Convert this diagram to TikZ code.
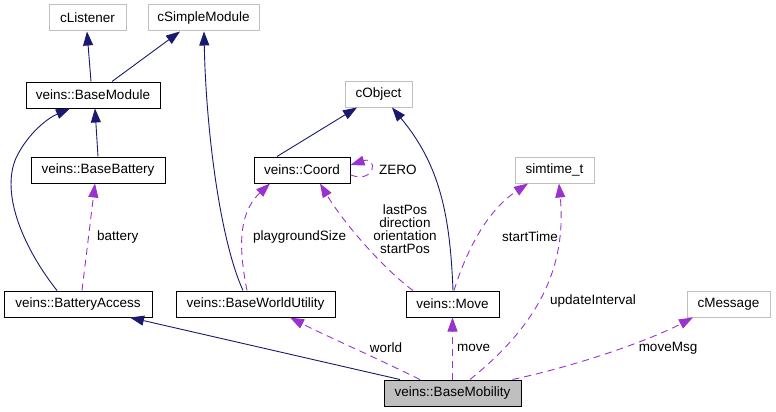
\documentclass[tikz,border=0pt]{standalone}
\usepackage{fontspec}
\setmainfont{Liberation Sans}
\usetikzlibrary{arrows.meta}
\definecolor{navy}{HTML}{191970}
\definecolor{purp}{HTML}{9A32CD}
\definecolor{gborder}{HTML}{BFBFBF}
\begin{document}
\begin{tikzpicture}[x=1pt,y=-1pt,
  every node/.style={font=\fontsize{13.5}{13}\selectfont},
  cls/.style={draw=black,line width=1pt,rectangle,inner sep=0pt,minimum height=26pt,fill=white},
  ext/.style={draw=gborder,line width=1pt,rectangle,inner sep=0pt,minimum height=26pt,fill=white},
  inh/.style={draw=navy,line width=0.9pt,-{Triangle[length=14pt,width=10pt,fill=navy]}},
  use/.style={draw=purp,line width=0.9pt,dash pattern=on 7pt off 5pt,-{Triangle[length=14pt,width=10pt,fill=purp,sep=0pt]}},
  lbl/.style={inner sep=0pt,text=black}]
\useasboundingbox (0,0) rectangle (776,412);
% nodes
\node[ext,minimum width=77pt] (cListener) at (87.5,18) {cListener};
\node[ext,minimum width=111pt] (cSimpleModule) at (203.5,18) {cSimpleModule};
\node[cls,minimum width=134pt] (BaseModule) at (93,95) {veins::BaseModule};
\node[cls,minimum width=134pt] (BaseBattery) at (98,170) {veins::BaseBattery};
\node[cls,minimum width=148pt] (BatteryAccess) at (78,304) {veins::BatteryAccess};
\node[cls,minimum width=159pt] (BaseWorldUtility) at (255.5,304) {veins::BaseWorldUtility};
\node[ext,minimum width=67pt] (cObject) at (378.5,94) {cObject};
\node[cls,minimum width=96pt] (Coord) at (302,170) {veins::Coord};
\node[ext,minimum width=79pt] (simtime) at (554.5,170) {simtime\_t};
\node[cls,minimum width=93pt] (Move) at (452.5,304) {veins::Move};
\node[ext,minimum width=83pt] (cMessage) at (728.5,304) {cMessage};
\node[cls,minimum width=137pt,fill=gborder] (BaseMobility) at (452.5,393) {veins::BaseMobility};
% inheritance
\draw[inh] ([xshift=-2pt]BaseModule.north) -- ([xshift=-0.5pt]cListener.south);
\draw[inh] ([xshift=19pt]BaseModule.north) -- ([xshift=-23.5pt]cSimpleModule.south);
\draw[inh] (BaseBattery.north) -- ([xshift=2pt]BaseModule.south);
\draw[inh] ([xshift=-21pt]BatteryAccess.north) .. controls (25,250) and (0,195) .. (16,158) .. controls (28,133) and (48,118) .. ([xshift=-23pt]BaseModule.south);
\draw[inh] ([xshift=-12.5pt]BaseWorldUtility.north) .. controls (220,240) and (206,130) .. ([xshift=0.5pt]cSimpleModule.south);
\draw[inh] ([xshift=-25pt]Coord.north) -- ([xshift=-21.5pt]cObject.south);
\draw[inh] ([xshift=0.5pt]Move.north) .. controls (450,215) and (440,165) .. ([xshift=13.5pt]cObject.south);
\draw[inh] ([xshift=-52.5pt]BaseMobility.north) -- ([xshift=52pt]BatteryAccess.south);
% usage
\draw[use] ([xshift=4pt]BatteryAccess.north) -- ([xshift=-3pt]BaseBattery.south);
\node[lbl,anchor=west] (lbattery) at (97,237) {battery};
\draw[use] ([xshift=-8.5pt]BaseWorldUtility.north) .. controls (240,255) and (236,215) .. ([xshift=-32pt]Coord.south);
\node[lbl,anchor=west] (lplay) at (253,237) {playgroundSize};
\draw[use] ([yshift=-5pt]Coord.east) .. controls (376,184) and (378,156) .. ([yshift=5pt]Coord.east);
\node[lbl,anchor=west] (lzero) at (379,170) {ZERO};
\draw[use] ([xshift=-39.5pt]Move.north) .. controls (385,270) and (345,225) .. ([xshift=18pt]Coord.south);
\node[lbl,align=center,font=\fontsize{13.5}{13}\selectfont] (lpos) at (405,229.5) {lastPos\\direction\\orientation\\startPos};
\draw[use] ([xshift=1.5pt]Move.north) .. controls (465,255) and (485,212) .. ([xshift=-26.5pt]simtime.south);
\node[lbl] (lstart) at (530,237) {startTime};
\draw[use] ([xshift=17.5pt]BaseMobility.north) .. controls (525,335) and (568,280) .. ([xshift=4.5pt]simtime.south);
\node[lbl] (lupd) at (593,301) {updateInterval};
\draw[use] ([xshift=-32.5pt]BaseMobility.north) .. controls (370,355) and (320,333) .. ([xshift=34.5pt]BaseWorldUtility.south);
\node[lbl] (lworld) at (386,348) {world};
\draw[use] (BaseMobility.north) -- (Move.south);
\node[lbl,anchor=west] (lmove) at (457,348) {move};
\draw[use] ([xshift=60pt]BaseMobility.north) .. controls (580,365) and (650,340) .. ([xshift=-35.5pt]cMessage.south);
\node[lbl] (lmsg) at (668,348) {moveMsg};
\end{tikzpicture}
\end{document}
